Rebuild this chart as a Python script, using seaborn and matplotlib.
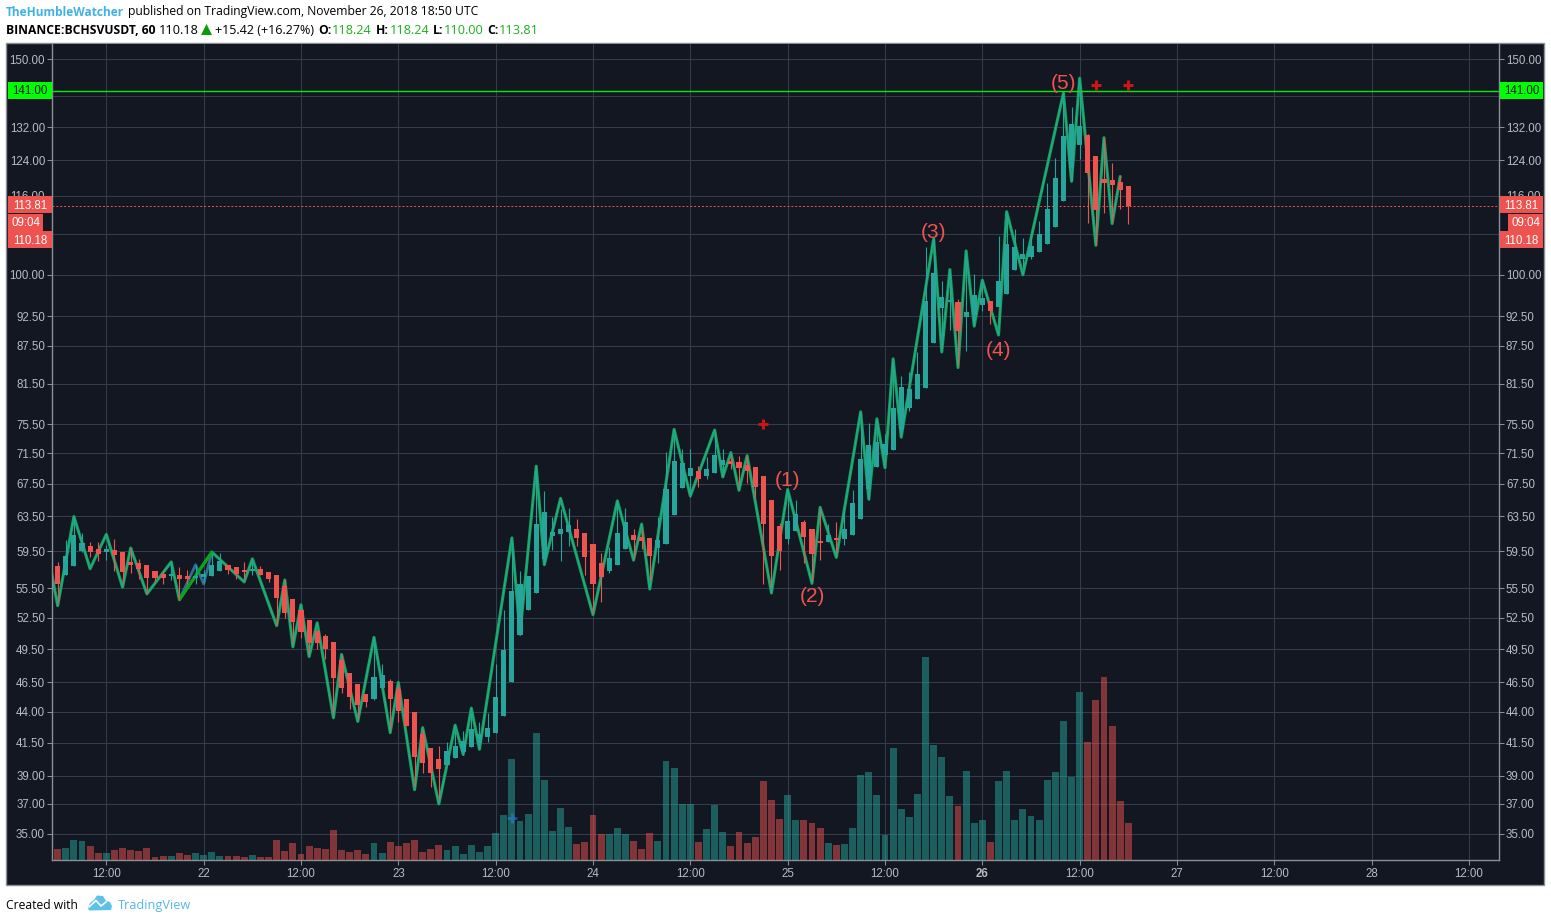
import matplotlib
matplotlib.use("Agg")
import matplotlib.pyplot as plt
from matplotlib.patches import Polygon, Rectangle
from matplotlib.lines import Line2D
import numpy as np
import pandas as pd
import seaborn as sns

WIDTH, HEIGHT = 1551, 922

BG = "#131722"
GRID = "#363c4e"
FRAME = "#8b8e96"
AXIS_TEXT = "#b8bbc2"
UP = "#26a69a"
DOWN = "#ef5350"
LINK = "#3fb2e6"

# hours counted from Nov 21 12:00, one candle per hour
hours = list(range(-6, 127))

opens = [
    57.88, 56.90, 57.88, 59.50, 60.09, 59.74, 59.39, 59.62, 59.39, 58.31, 58.20, 57.99,
    57.34, 57.02, 56.80, 56.91, 56.80, 56.58, 56.69, 56.80, 57.34, 57.99, 57.77, 57.45,
    57.34, 57.56, 57.23, 56.91, 55.72, 54.40, 53.30, 52.31, 51.24, 50.76, 50.18, 48.53,
    47.29, 46.33, 45.47, 45.03, 45.98, 46.59, 45.90, 45.03, 44.00, 42.23, 41.12, 40.29,
    39.84, 40.37, 40.82, 41.20, 41.50, 41.99, 42.31, 43.68, 46.50, 50.86, 53.30, 55.00,
    58.64, 61.26, 61.49, 61.73, 62.08, 61.61, 60.32, 58.20, 57.34, 57.99, 59.74, 61.38,
    61.14, 61.02, 59.85, 60.32, 63.62, 67.02, 68.53, 69.18, 68.53, 68.92, 69.95, 70.47,
    70.34, 69.95, 69.69, 68.53, 65.56, 62.32, 60.90, 61.85, 62.79, 62.08, 60.68, 60.56,
    61.02, 60.90, 61.38, 63.15, 66.90, 69.69, 71.24, 71.90, 74.80, 77.90, 79.25, 80.90,
    88.00, 93.96, 95.10, 95.10, 92.33, 92.68, 94.50, 95.25, 94.15, 96.50, 101.00, 103.10,
    103.50, 104.30, 106.00, 109.40, 114.80, 122.20, 127.60, 130.00, 125.00, 119.70, 119.50, 119.00,
    118.24,
]
highs = [
    58.31, 60.79, 63.15, 61.61, 60.56, 60.56, 60.21, 60.92, 59.39, 59.85, 58.64, 57.99,
    57.34, 57.34, 58.31, 57.77, 57.45, 57.99, 57.45, 59.28, 59.28, 57.99, 57.77, 58.31,
    58.64, 57.88, 57.23, 56.91, 56.36, 54.40, 53.30, 52.31, 51.24, 50.95, 50.18, 48.97,
    47.29, 46.33, 45.47, 50.37, 48.09, 46.76, 46.33, 45.03, 44.00, 42.54, 41.12, 41.27,
    41.58, 42.54, 42.46, 43.92, 43.19, 43.92, 48.09, 53.30, 59.60, 57.34, 56.80, 69.31,
    66.65, 63.38, 64.35, 64.47, 63.15, 61.61, 60.32, 59.28, 59.97, 65.20, 64.47, 61.97,
    61.97, 61.02, 63.38, 71.63, 73.98, 72.05, 72.05, 69.82, 70.98, 74.40, 72.05, 71.11,
    71.11, 71.11, 69.69, 68.53, 65.56, 62.67, 66.41, 65.56, 63.03, 62.08, 64.35, 62.56,
    62.79, 64.35, 66.78, 77.15, 75.64, 76.10, 74.12, 84.50, 82.76, 83.24, 86.55, 105.30,
    107.00, 98.90, 100.40, 95.60, 104.20, 100.20, 99.20, 95.25, 107.50, 112.30, 109.00, 107.20,
    107.90, 110.60, 118.90, 124.60, 140.00, 137.00, 143.30, 130.40, 125.00, 129.30, 123.40, 120.50,
    118.24,
]
lows = [
    54.10, 56.90, 57.88, 59.39, 58.85, 58.42, 58.53, 57.34, 56.04, 57.12, 56.48, 54.90,
    56.15, 55.94, 56.37, 54.30, 55.94, 55.94, 56.04, 56.80, 57.34, 57.02, 56.48, 56.48,
    56.91, 56.91, 56.15, 51.82, 52.50, 50.08, 50.57, 49.15, 49.50, 48.62, 43.92, 45.55,
    44.26, 43.51, 44.43, 44.95, 45.98, 42.54, 43.19, 42.87, 38.24, 39.23, 38.17, 37.35,
    39.84, 40.37, 40.59, 41.20, 41.20, 41.58, 42.31, 43.68, 46.50, 50.86, 53.30, 55.00,
    57.99, 59.61, 58.42, 60.09, 60.09, 56.90, 53.00, 54.10, 57.12, 57.99, 59.74, 58.74,
    59.74, 56.36, 58.20, 60.32, 63.62, 67.02, 65.93, 67.14, 68.15, 68.92, 68.40, 69.44,
    67.26, 67.63, 65.81, 55.94, 55.61, 57.45, 60.32, 61.85, 58.20, 56.36, 58.53, 60.56,
    59.28, 60.21, 61.38, 63.15, 65.56, 69.69, 69.57, 71.90, 73.70, 77.45, 79.25, 80.90,
    88.00, 88.00, 90.16, 84.40, 86.70, 91.00, 93.40, 91.15, 94.15, 96.50, 100.90, 101.40,
    103.10, 104.30, 106.00, 109.40, 114.80, 119.20, 124.20, 110.30, 105.80, 112.30, 110.50, 113.20,
    110.00,
]
closes = [
    55.94, 58.96, 61.38, 60.44, 59.39, 59.18, 59.74, 59.07, 57.23, 57.99, 57.56, 56.58,
    56.58, 56.58, 57.02, 56.48, 56.48, 56.80, 57.02, 57.99, 58.42, 57.45, 57.02, 57.23,
    57.56, 56.91, 56.48, 54.50, 53.00, 52.11, 51.14, 50.08, 50.08, 49.50, 46.85, 45.98,
    45.21, 44.52, 44.78, 46.94, 47.12, 45.03, 44.09, 42.87, 40.44, 39.98, 39.23, 39.53,
    40.89, 41.27, 41.66, 42.62, 42.23, 42.70, 45.21, 49.41, 55.20, 55.94, 56.80, 62.56,
    63.98, 61.73, 62.08, 62.44, 61.02, 58.85, 55.94, 56.69, 58.74, 61.61, 62.79, 60.79,
    60.67, 58.96, 60.79, 66.90, 70.47, 70.21, 69.57, 68.15, 69.44, 71.24, 70.60, 70.08,
    69.57, 69.18, 67.14, 62.56, 58.96, 59.50, 62.91, 63.74, 61.14, 59.18, 60.44, 61.38,
    60.79, 62.08, 65.07, 70.73, 72.60, 73.02, 72.74, 77.90, 81.05, 80.75, 82.92, 95.25,
    100.40, 96.00, 95.45, 90.00, 93.20, 96.35, 95.80, 93.40, 98.90, 105.90, 105.30, 103.90,
    105.50, 107.90, 113.20, 119.90, 129.80, 132.70, 132.20, 121.10, 113.00, 118.80, 118.30, 117.20,
    113.81,
]
# no volume scale on the chart, so these are bar heights
volumes = [
    11, 12, 20, 19, 14, 7, 7, 10, 12, 10, 9, 12,
    3, 4, 4, 7, 5, 7, 5, 8, 4, 4, 4, 3,
    5, 3, 3, 20, 9, 17, 6, 14, 12, 11, 30, 10,
    8, 10, 6, 17, 7, 18, 14, 17, 20, 8, 11, 15,
    10, 14, 6, 15, 8, 14, 27, 45, 101, 39, 46, 127,
    80, 29, 52, 33, 16, 18, 45, 26, 26, 32, 26, 19,
    11, 27, 19, 99, 92, 56, 56, 18, 31, 55, 28, 14,
    28, 17, 23, 79, 60, 41, 65, 40, 40, 37, 32, 17,
    15, 16, 32, 85, 88, 65, 25, 112, 51, 43, 66, 203,
    115, 103, 64, 54, 89, 37, 40, 18, 79, 89, 40, 51,
    44, 40, 80, 88, 139, 83, 168, 118, 160, 183, 134, 59,
    37,
]

zig_hours = [
    -7, -6, -4, -2, 0, 2, 3, 5, 8, 9, 13, 17, 18, 21, 22, 23, 24, 25, 26, 28, 29, 31, 33, 35,
    36, 38, 39, 41, 43, 44, 45, 46, 50, 51, 53, 54, 56, 60, 63, 65, 66, 67, 70, 72, 75, 76,
    77, 78, 79, 82, 84, 87, 88, 90, 93, 94, 95, 96, 97, 98, 102, 103, 104, 105, 106, 107,
    108, 110, 111, 113, 118, 119, 120, 122, 123, 124, 125,
]
zig_prices = [
    58.31, 53.70, 63.50, 57.56, 61.40, 55.60, 59.85, 54.90, 58.31, 54.30, 59.40, 56.15, 58.64,
    51.72, 56.36, 49.70, 53.80, 48.80, 52.00, 43.50, 49.00, 43.20, 50.60, 42.30, 46.50, 38.00,
    42.70, 37.00, 42.90, 40.60, 44.30, 41.00, 61.00, 50.90, 69.80, 58.00, 65.70, 52.80, 65.40,
    58.50, 62.60, 55.40, 74.80, 66.00, 74.70, 68.40, 71.60, 66.70, 71.20, 55.00, 66.80, 56.00,
    64.60, 58.80, 77.30, 65.60, 76.30, 69.60, 85.40, 73.70, 107.00, 86.50, 101.00, 84.00,
    104.60, 90.80, 99.00, 89.30, 112.60, 100.00, 140.70, 119.20, 144.70, 105.70, 129.40,
    110.10, 120.30,
]
alt_hours = [9, 11, 12, 13]
alt_prices = [54.30, 57.99, 55.94, 59.40]
bright_hours = [9, 13]
bright_prices = [54.30, 59.40]

wave_labels = ["(1)", "(2)", "(3)", "(4)", "(5)"]
wave_hours = [84, 87, 102, 110, 118]
wave_prices = [68.0, 54.6, 108.2, 86.8, 143.3]

cross_hours = [81, 122, 126]
cross_prices = [75.5, 142.9, 142.9]
blue_hour = [50]
blue_price = [36.05]

price_ticks = [150, 140, 132, 124, 116, 108, 100, 92.5, 87.5, 81.5, 75.5, 71.5, 67.5, 63.5,
               59.5, 55.5, 52.5, 49.5, 46.5, 44, 41.5, 39, 37, 35]
# 140 and 108 only show as grid lines, the price tags sit on their labels
hidden_ticks = [140, 108]
time_ticks = list(range(0, 169, 12))
time_labels = ["12:00", "22", "12:00", "23", "12:00", "24", "12:00", "25",
               "12:00", "26", "12:00", "27", "12:00", "28", "12:00"]

level_price = 141.2
last_close = 113.81

sns.set_theme(style="darkgrid", rc={
    "axes.facecolor": BG,
    "grid.color": GRID,
    "grid.linewidth": 0.75,
})
plt.rcParams["font.family"] = ["Liberation Sans", "DejaVu Sans"]


def fx(px):
    return px / WIDTH


def fy(px):
    return 1 - px / HEIGHT


def header(px, py, txt, color="black", weight="normal", size=8.75, family="Open Sans"):
    fig.text(fx(px), fy(py), txt, color=color, fontweight=weight, fontsize=size,
             family=family, va="center", ha="left")


fig = plt.figure(figsize=(WIDTH / 100, HEIGHT / 100), dpi=100, facecolor="white")

# dark panel behind the chart
fig.patches.append(Rectangle((fx(6), fy(885)), fx(1538), 842 / HEIGHT, transform=fig.transFigure,
                             facecolor=BG, edgecolor=FRAME, linewidth=1, zorder=-1))

ax = fig.add_axes([fx(52), fy(860), fx(1447), 816 / HEIGHT], zorder=1)
ax.set_yscale("log")

sns.lineplot(x=alt_hours, y=alt_prices, color="#2f6f95", lw=2.0, sort=False, estimator=None, ax=ax)
sns.lineplot(x=zig_hours, y=zig_prices, color="#12a34a", lw=2.2, sort=False, estimator=None, ax=ax)
sns.lineplot(x=zig_hours, y=zig_prices, color=UP, lw=0.9, sort=False, estimator=None, ax=ax)
sns.lineplot(x=bright_hours, y=bright_prices, color="#07a80f", lw=2.0, sort=False, estimator=None, ax=ax)

candles = pd.DataFrame({"hour": hours, "open": opens, "high": highs, "low": lows,
                        "close": closes, "volume": volumes})
candles["side"] = np.where(candles["close"] >= candles["open"], "up", "down")
colors = candles["side"].map({"up": UP, "down": DOWN})

ax.vlines(candles["hour"], candles["low"], candles["high"], colors=colors, lw=0.8, zorder=3)
ax.bar(candles["hour"], (candles["close"] - candles["open"]).abs(),
       bottom=candles[["open", "close"]].min(axis=1), width=0.62, color=colors,
       edgecolor="none", linewidth=0, zorder=3)

sns.scatterplot(x=cross_hours, y=cross_prices, marker="+", s=50, color="#d01414", linewidth=2.1,
                zorder=4, ax=ax)
sns.scatterplot(x=blue_hour, y=blue_price, marker="+", s=50, color="#1f3fb0", linewidth=2.1,
                zorder=4, ax=ax)

ax.axhline(level_price, color="#00ee00", lw=1.0, zorder=2)
ax.axhline(last_close, color=DOWN, lw=0.7, dashes=(2, 2), zorder=2)

for label, h, p in zip(wave_labels, wave_hours, wave_prices):
    ax.text(h, p, label, color=DOWN, fontsize=15, ha="center", va="center", zorder=5)

ax.set_ylim(33.3, 154.3)
ax.set_yticks(price_ticks, ["" if p in hidden_ticks else f"{p:.2f}" for p in price_ticks])
ax.minorticks_off()

# volume pane sits on the same time axis, height only
ax_vol = ax.twinx()
ax_vol.set_zorder(2)
ax_vol.patch.set_visible(False)
sns.barplot(data=candles, x="hour", y="volume", hue="side", native_scale=True, dodge=False,
            palette={"up": UP, "down": DOWN}, saturation=1, alpha=0.5, width=0.84,
            errorbar=None, legend=False, edgecolor="none", linewidth=0, ax=ax_vol)
ax_vol.set_ylim(0, 816)
ax_vol.set_ylabel("")
ax_vol.set_xlabel("")
ax_vol.set_yticks([])
ax_vol.grid(False)
for spine in ax_vol.spines.values():
    spine.set_visible(False)

ax.set_xlim(-6.7, 171.7)
ax.set_xticks(time_ticks, time_labels)
for tick in ax.get_xticklabels():
    if tick.get_text() == "26":
        tick.set_fontweight("bold")
ax.set_xlabel("")
ax.set_ylabel("")
ax.grid(True, color=GRID, lw=0.75)
ax.set_axisbelow(True)
ax.tick_params(axis="both", which="major", length=3.5, width=0.75, color=FRAME,
               labelcolor=AXIS_TEXT, labelsize=8.3, pad=1.5, left=True, bottom=True, right=True,
               labelright=True)
ax.tick_params(axis="x", pad=2)
ax.spines["top"].set_visible(False)
for side in ["left", "right", "bottom"]:
    ax.spines[side].set_color(FRAME)
    ax.spines[side].set_linewidth(1)
    ax.spines[side].set_visible(True)


def badge(py, txt, face, text_color, short=False):
    # price tags on both scales, stacked so they do not cover each other
    for x0, x1 in [(8, 43) if short else (8, 52), (1508, 1543) if short else (1500, 1543)]:
        fig.patches.append(Rectangle((fx(x0), fy(py + 8.5)), fx(x1 - x0), 17 / HEIGHT,
                                     transform=fig.transFigure, facecolor=face, edgecolor="none",
                                     zorder=6))
        fig.text(fx((x0 + x1) / 2), fy(py + 0.5), txt, color=text_color, fontsize=8.3, ha="center",
                 va="center", zorder=7)


badge(91, "141.00", "#00ff00", "#131722")
badge(205, "113.81", DOWN, "white")
badge(223, "09:04", DOWN, "white", short=True)
badge(240, "110.18", DOWN, "white")

# title lines above the chart
header(6, 12, "TheHumbleWatcher", color=LINK, weight="bold", size=8.6)
header(128, 12, "published on TradingView.com, November 26, 2018 18:50 UTC")
header(6, 30, "BINANCE:BCHSVUSDT, 60", weight="bold", size=8.7)
header(159, 30, "110.18", size=9.2)
fig.patches.append(Polygon([(fx(201), fy(35)), (fx(212), fy(35)), (fx(206.5), fy(24))],
                           transform=fig.transFigure, facecolor="#0a9a0a", edgecolor="none"))
header(215, 30, "+15.42 (+16.27%)", size=9.0)
for px, name, px_val, val in [(318, "O:", 332, "118.24"), (376, "H:", 390, "118.24"),
                              (433, "L:", 444, "110.00"), (487, "C:", 499, "113.81")]:
    header(px, 30, name, weight="bold", size=8.7)
    header(px_val, 30, val, color="#1fae1f", size=9.2)

# footer with the cloud logo
header(6, 905, "Created with", size=8.7)
fig.patches.append(Polygon([(fx(a), fy(b)) for a, b in
                            [(88, 908), (90, 903), (94, 900), (97, 895.5), (103, 896), (106, 901),
                             (110, 902), (112, 906), (111, 910), (89, 910.5)]],
                           transform=fig.transFigure, facecolor="#5cc1ea", edgecolor="none"))
fig.add_artist(Line2D([fx(a) for a in (89, 96, 101, 106)], [fy(b) for b in (907, 900.5, 906, 902)],
                      transform=fig.transFigure, color="white", lw=1.2))
header(118, 905, "TradingView", color="#55b8e8", size=9.2)

fig.savefig("out.png", dpi=100, facecolor="white")
